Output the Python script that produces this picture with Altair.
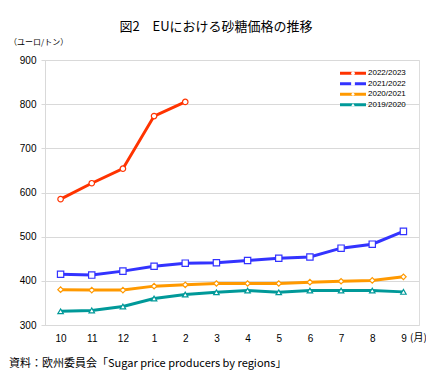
import altair as alt
import pandas as pd

months = ["10", "11", "12", "1", "2", "3", "4", "5", "6", "7", "8", "9"]
series_names = ["2022/2023", "2021/2022", "2020/2021", "2019/2020"]
s2022 = [585, 621, 654, 773, 805]
s2021 = [415, 413, 422, 433, 440, 441, 446, 451, 454, 474, 483, 512]
s2020 = [380, 379, 379, 388, 391, 394, 394, 394, 397, 399, 401, 409]
s2019 = [331, 333, 342, 360, 369, 374, 378, 374, 378, 378, 378, 375]
colors = ["#FF3300", "#3333FF", "#FF9900", "#009999"]
shapes = ["circle", "square", "diamond", "triangle-up"]
sizes = [30, 40, 30, 30]

rows = []
for name, vals in zip(series_names, [s2022, s2021, s2020, s2019]):
    for m, v in zip(months, vals):
        rows.append({"month": m, "value": v, "series": name})
df = pd.DataFrame(rows)

FONT = "Noto Sans CJK JP"
x_enc = alt.X("month:O", sort=months, scale=alt.Scale(type="point", padding=0.5),
              axis=alt.Axis(title=None, labelAngle=0, domain=False, ticks=False,
                            labelPadding=8, labelFont="Liberation Sans", labelFontSize=10,
                            labelColor="#000000"))
y_enc = alt.Y("value:Q", scale=alt.Scale(domain=[300, 900], nice=False),
              axis=alt.Axis(title=None, values=[300, 400, 500, 600, 700, 800, 900],
                            gridColor="#d9d9d9", domainColor="#d9d9d9", tickColor="#d9d9d9",
                            tickSize=4, labelPadding=5, labelFont="Liberation Sans",
                            labelFontSize=10, labelColor="#000000"))

layers = []
for name, c, sh, sz in zip(series_names, colors, shapes, sizes):
    sub = df[df.series == name]
    base = alt.Chart(sub)
    layers.append(base.mark_line(color=c, strokeWidth=3).encode(x=x_enc, y=y_enc))
    layers.append(base.mark_point(shape=sh, color=c, fill="white", filled=True,
                                  stroke=c, strokeWidth=1.2, size=sz, opacity=1)
                  .encode(x=x_enc, y=y_enc))

main = alt.layer(*layers)

# legend
leg = pd.DataFrame({"series": series_names, "color": colors, "shape": shapes})
leg_y = alt.Y("series:N", sort=series_names,
              scale=alt.Scale(domain=series_names, range=[8, 50]), axis=None)
color_scale = alt.Scale(domain=series_names, range=colors)
shape_scale = alt.Scale(domain=series_names, range=shapes)
leg_line = alt.Chart(leg).mark_rule(strokeWidth=3).encode(
    x=alt.value(295), x2=alt.value(321), y=leg_y,
    color=alt.Color("series:N", scale=color_scale, legend=None))
leg_pt = alt.Chart(leg).mark_point(filled=True, fill="white", size=14, strokeWidth=1, opacity=1).encode(
    x=alt.value(308), y=leg_y,
    color=alt.Color("series:N", scale=color_scale, legend=None),
    shape=alt.Shape("series:N", scale=shape_scale, legend=None))
leg_txt = alt.Chart(leg).mark_text(align="left", baseline="middle", font="Liberation Sans",
                                    fontSize=8, color="#000000").encode(
    x=alt.value(323), y=leg_y, text="series:N")
legend = alt.layer(leg_line, leg_pt, leg_txt)

def label(txt, x, y, size, align="left"):
    return alt.Chart(pd.DataFrame({"t": [txt]})).mark_text(
        align=align, baseline="middle", font=FONT, fontSize=size, color="#000000"
    ).encode(x=alt.value(x), y=alt.value(y), text="t:N")

texts = alt.layer(
    label("図2\u3000EUにおける砂糖価格の推移", 171, -33, 13, "center"),
    label("（ユーロ/トン）", -36, -17, 8),
    label("(月)", 365, 278, 10),
    label("資料：欧州委員会「Sugar price producers by regions」", -36, 304, 11),
)

chart = alt.layer(main, legend, texts).resolve_scale(
    y="independent", color="independent", shape="independent"
).properties(
    width=374, height=265,
    autosize=alt.AutoSizeParams(type="none"),
    padding={"left": 37, "top": 52, "right": 7, "bottom": 47},
).configure_view(stroke="#d9d9d9").configure(background="white")

chart.save("out.html", embed_options={"renderer": "svg", "actions": False})
